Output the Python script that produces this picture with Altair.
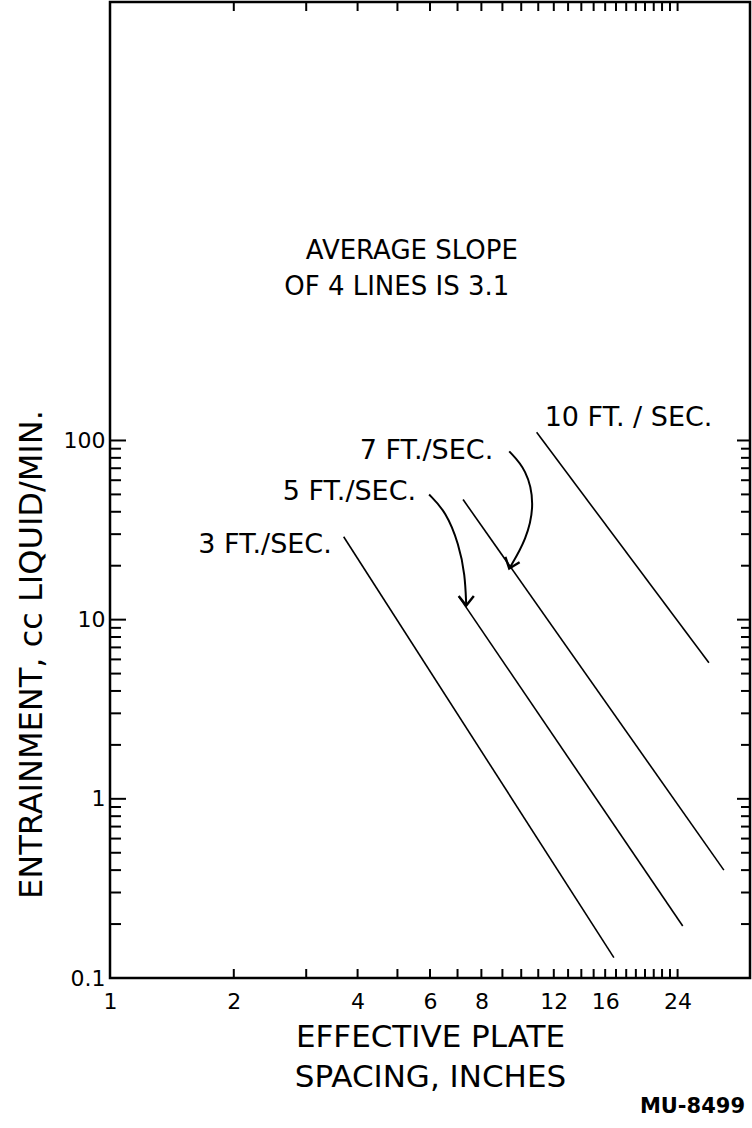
import altair as alt
import pandas as pd

FONT = "DejaVu Sans"

# Entrainment lines, one per vapour velocity: end points on log-log paper
series = ["3 FT./SEC.", "5 FT./SEC.", "7 FT./SEC.", "10 FT. / SEC."]
x_start = [3.7, 7.06, 7.22, 10.9]
y_start = [29.0, 13.4, 46.8, 111.0]
x_end = [16.8, 24.7, 31.1, 28.6]
y_end = [0.13, 0.195, 0.40, 5.75]

# Where each velocity label sits (left edge, vertical middle)
label_x = [1.64, 2.63, 4.05, 11.4]
label_y = [26.2, 51.9, 86.9, 134.0]

# Curved leader arrows from the 5 and 7 ft/sec labels to their lines
arrow5_x = [5.97, 6.56, 7.06, 7.30, 7.35]
arrow5_y = [49.9, 40.1, 26.2, 17.8, 12.0]
arrow7_x = [9.35, 10.3, 10.8, 10.3, 9.35]
arrow7_y = [86.9, 68.9, 44.5, 28.0, 19.3]
arrow_tip_angle = [0, 20]

# Note inside the plot
note_lines = ["AVERAGE SLOPE", "OF 4 LINES IS 3.1"]
note_x = [5.42, 4.98]
note_y = [1138.0, 716.0]

# Axis labels and tick marks
x_labels = [1, 2, 4, 6, 8, 12, 16, 24]
y_labels = [0.1, 1, 10, 100]
x_ticks = list(range(2, 25))
y_minor = [0.2, 0.3, 0.4, 0.5, 0.6, 0.7, 0.8, 0.9,
           2, 3, 4, 5, 6, 7, 8, 9,
           20, 30, 40, 50, 60, 70, 80, 90]
y_major = [1, 10, 100]

W, H = 640, 976
xs = alt.Scale(type="log", domain=[1, 36], nice=False)
ys = alt.Scale(type="log", domain=[0.1, 28000], nice=False)

# One axis definition shared by every layer so the merged axes agree
AX_X = alt.Axis(values=x_labels, format="~g", ticks=False, domain=False,
                grid=False, labelFlush=False, labelFontSize=22,
                labelPadding=13, labelColor="black", labelFont=FONT,
                title=["EFFECTIVE PLATE", "SPACING, INCHES"],
                titleFontSize=31, titleFontWeight="normal",
                titleFont=FONT, titleColor="black", titlePadding=10,
                titleLineHeight=40)
AX_Y = alt.Axis(values=y_labels, format="~g", ticks=False, domain=False,
                grid=False, labelFontSize=22, labelPadding=5,
                labelColor="black", labelFont=FONT,
                title="ENTRAINMENT, cc LIQUID/MIN.",
                titleFontSize=32, titleFontWeight="normal",
                titleFont=FONT, titleColor="black",
                titleX=-62, titleY=652)

X = lambda f: alt.X(f, scale=xs, axis=AX_X)
Y = lambda f: alt.Y(f, scale=ys, axis=AX_Y)

lines_df = pd.DataFrame({
    "series": series * 2,
    "x": x_start + x_end,
    "y": y_start + y_end,
})
lines = alt.Chart(lines_df).mark_line(color="black", strokeWidth=1.6).encode(
    x=X("x:Q"), y=Y("y:Q"), detail="series:N",
)

labels_df = pd.DataFrame({"text": series, "x": label_x, "y": label_y})
labels = alt.Chart(labels_df).mark_text(
    align="left", baseline="middle", fontSize=27, font=FONT, color="black"
).encode(x=X("x:Q"), y=Y("y:Q"), text="text:N")

note_df = pd.DataFrame({"text": note_lines, "x": note_x, "y": note_y})
note = alt.Chart(note_df).mark_text(
    align="center", baseline="middle", fontSize=26, font=FONT, color="black"
).encode(x=X("x:Q"), y=Y("y:Q"), text="text:N")

arrows_df = pd.DataFrame({
    "arrow": ["a5"] * len(arrow5_x) + ["a7"] * len(arrow7_x),
    "i": list(range(len(arrow5_x))) + list(range(len(arrow7_x))),
    "x": arrow5_x + arrow7_x,
    "y": arrow5_y + arrow7_y,
})
arrows = alt.Chart(arrows_df).mark_line(
    color="black", strokeWidth=2, interpolate="basis"
).encode(x=X("x:Q"), y=Y("y:Q"), detail="arrow:N", order="i:Q")

tips_df = pd.DataFrame({
    "x": [arrow5_x[-1], arrow7_x[-1]],
    "y": [arrow5_y[-1], arrow7_y[-1]],
    "angle": arrow_tip_angle,
})
tips = alt.Chart(tips_df).mark_point(
    shape="M -0.8 -1 L 0 0 L 0.8 -1", filled=False, color="black",
    strokeWidth=2.4, size=360, opacity=1
).encode(x=X("x:Q"), y=Y("y:Q"), angle=alt.Angle("angle:Q", scale=None))

xt_df = pd.DataFrame({"v": x_ticks})
ticks_bottom = alt.Chart(xt_df).mark_rule(color="black", strokeWidth=2).encode(
    x=X("v:Q"), y=alt.value(H), y2=alt.value(H - 9)
)
ticks_top = alt.Chart(xt_df).mark_rule(color="black", strokeWidth=2).encode(
    x=X("v:Q"), y=alt.value(0), y2=alt.value(9)
)

ymin_df = pd.DataFrame({"v": y_minor})
ymaj_df = pd.DataFrame({"v": y_major})
ticks_left_minor = alt.Chart(ymin_df).mark_rule(color="black", strokeWidth=2).encode(
    y=Y("v:Q"), x=alt.value(0), x2=alt.value(11)
)
ticks_left_major = alt.Chart(ymaj_df).mark_rule(color="black", strokeWidth=2).encode(
    y=Y("v:Q"), x=alt.value(0), x2=alt.value(16)
)
ticks_right_minor = alt.Chart(ymin_df).mark_rule(color="black", strokeWidth=2).encode(
    y=Y("v:Q"), x=alt.value(W - 9), x2=alt.value(W)
)
ticks_right_major = alt.Chart(ymaj_df).mark_rule(color="black", strokeWidth=2).encode(
    y=Y("v:Q"), x=alt.value(W - 13), x2=alt.value(W)
)

chart = alt.layer(
    lines, labels, note, arrows, tips,
    ticks_bottom, ticks_top,
    ticks_left_minor, ticks_left_major, ticks_right_minor, ticks_right_major,
).properties(
    width=W, height=H,
    autosize="none",
    padding={"left": 110, "top": 2, "right": 2, "bottom": 150},
    title=alt.TitleParams("MU-8499", orient="bottom", anchor="end",
                          fontSize=21, fontWeight="bold", font=FONT,
                          color="black", offset=4, dx=-6),
    background="white",
).configure_view(
    stroke="black", strokeWidth=2.5
)

chart.save("out.html", embed_options={"renderer": "svg", "actions": False})
